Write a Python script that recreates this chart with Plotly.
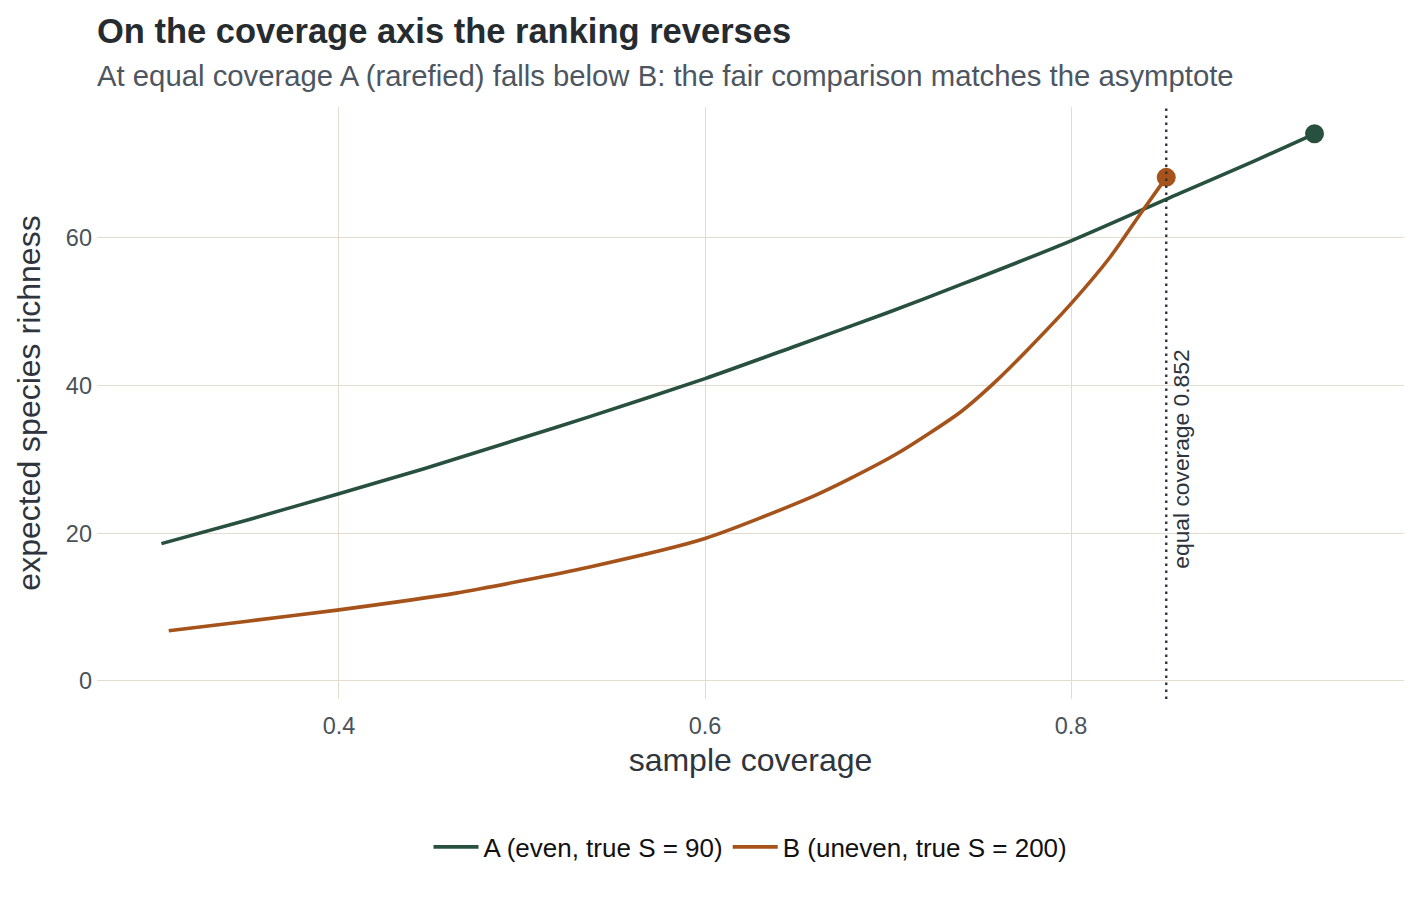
import plotly.graph_objects as go

# Data
a_cov = [0.303, 0.35, 0.399, 0.446, 0.50, 0.537, 0.60, 0.65, 0.70, 0.74, 0.80, 0.859, 0.90, 0.933]
a_rich = [18.6, 21.8, 25.3, 28.7, 32.9, 35.8, 40.95, 45.4, 49.9, 53.7, 59.6, 66.0, 70.4, 74.1]

b_cov = [0.307, 0.35, 0.399, 0.464, 0.537, 0.60, 0.659, 0.68, 0.705, 0.74, 0.759, 0.776, 0.80, 0.8215, 0.838, 0.852]
b_rich = [6.8, 8.1, 9.6, 11.9, 15.45, 19.3, 25.0, 27.5, 30.8, 36.5, 40.6, 44.8, 51.1, 57.45, 63.3, 68.2]

equal_cov = 0.852
names = ["A (even, true S = 90)", "B (uneven, true S = 200)"]
colors = ["#28503f", "#a5521b"]

x_ticks = [0.4, 0.6, 0.8]
y_ticks = [0, 20, 40, 60]

title_text = "On the coverage axis the ranking reverses"
subtitle_text = "At equal coverage A (rarefied) falls below B: the fair comparison matches the asymptote"

FONT = "Liberation Sans, Arial, Helvetica, sans-serif"

fig = go.Figure()
for xs, ys, name, col in [(a_cov, a_rich, names[0], colors[0]), (b_cov, b_rich, names[1], colors[1])]:
    fig.add_trace(go.Scatter(x=xs, y=ys, mode="lines", name=name,
                             line=dict(color=col, width=3.6, shape="spline", smoothing=0.7)))
    fig.add_trace(go.Scatter(x=[xs[-1]], y=[ys[-1]], mode="markers", showlegend=False,
                             marker=dict(color=col, size=19)))

fig.add_vline(x=equal_cov, line=dict(color="#30363d", width=2.4, dash="2.4px,4.6px"))
fig.add_annotation(x=equal_cov, y=30, text="equal coverage 0.852", textangle=-90,
                   showarrow=False, xshift=15,
                   font=dict(family=FONT, size=22.8, color="#2e353d"))

fig.add_annotation(xref="paper", yref="paper", x=0, y=1.1284, xanchor="left", yanchor="middle",
                   text="<b>" + title_text + "</b>", showarrow=False, xshift=-2,
                   font=dict(family=FONT, size=34.5, color="#262b30"))
fig.add_annotation(xref="paper", yref="paper", x=0, y=1.0524, xanchor="left", yanchor="middle",
                   text=subtitle_text, showarrow=False, xshift=-2,
                   font=dict(family=FONT, size=29.3, color="#4d5660"))

fig.update_layout(
    width=1420, height=902, autosize=False,
    margin=dict(l=97, r=16, t=107, b=203),
    paper_bgcolor="white", plot_bgcolor="white",
    font=dict(family=FONT, color="#4a525a"),
    xaxis=dict(range=[0.2678, 0.9819], tickvals=x_ticks, ticktext=["0.4", "0.6", "0.8"],
               showgrid=True, gridcolor="#e4ddcf", gridwidth=1.4, zeroline=False,
               showline=False, ticks="", ticklabelstandoff=10, tickfont=dict(size=23.5, color="#4a525a"),
               title=dict(text="sample coverage", font=dict(size=32, color="#2e353d"), standoff=11)),
    yaxis=dict(range=[-2.44, 77.73], tickvals=y_ticks,
               showgrid=True, gridcolor="#e4ddcf", gridwidth=1.4, zeroline=False,
               showline=False, ticks="", ticklabelstandoff=4, tickfont=dict(size=23.5, color="#4a525a"),
               title=dict(text="expected species richness", font=dict(size=32, color="#2e353d"), standoff=15)),
    legend=dict(orientation="h", x=0.5, xanchor="center", y=-0.25, yanchor="middle",
                itemwidth=45, font=dict(size=26, color="#111111")),
)

fig.write_html("out.html")
